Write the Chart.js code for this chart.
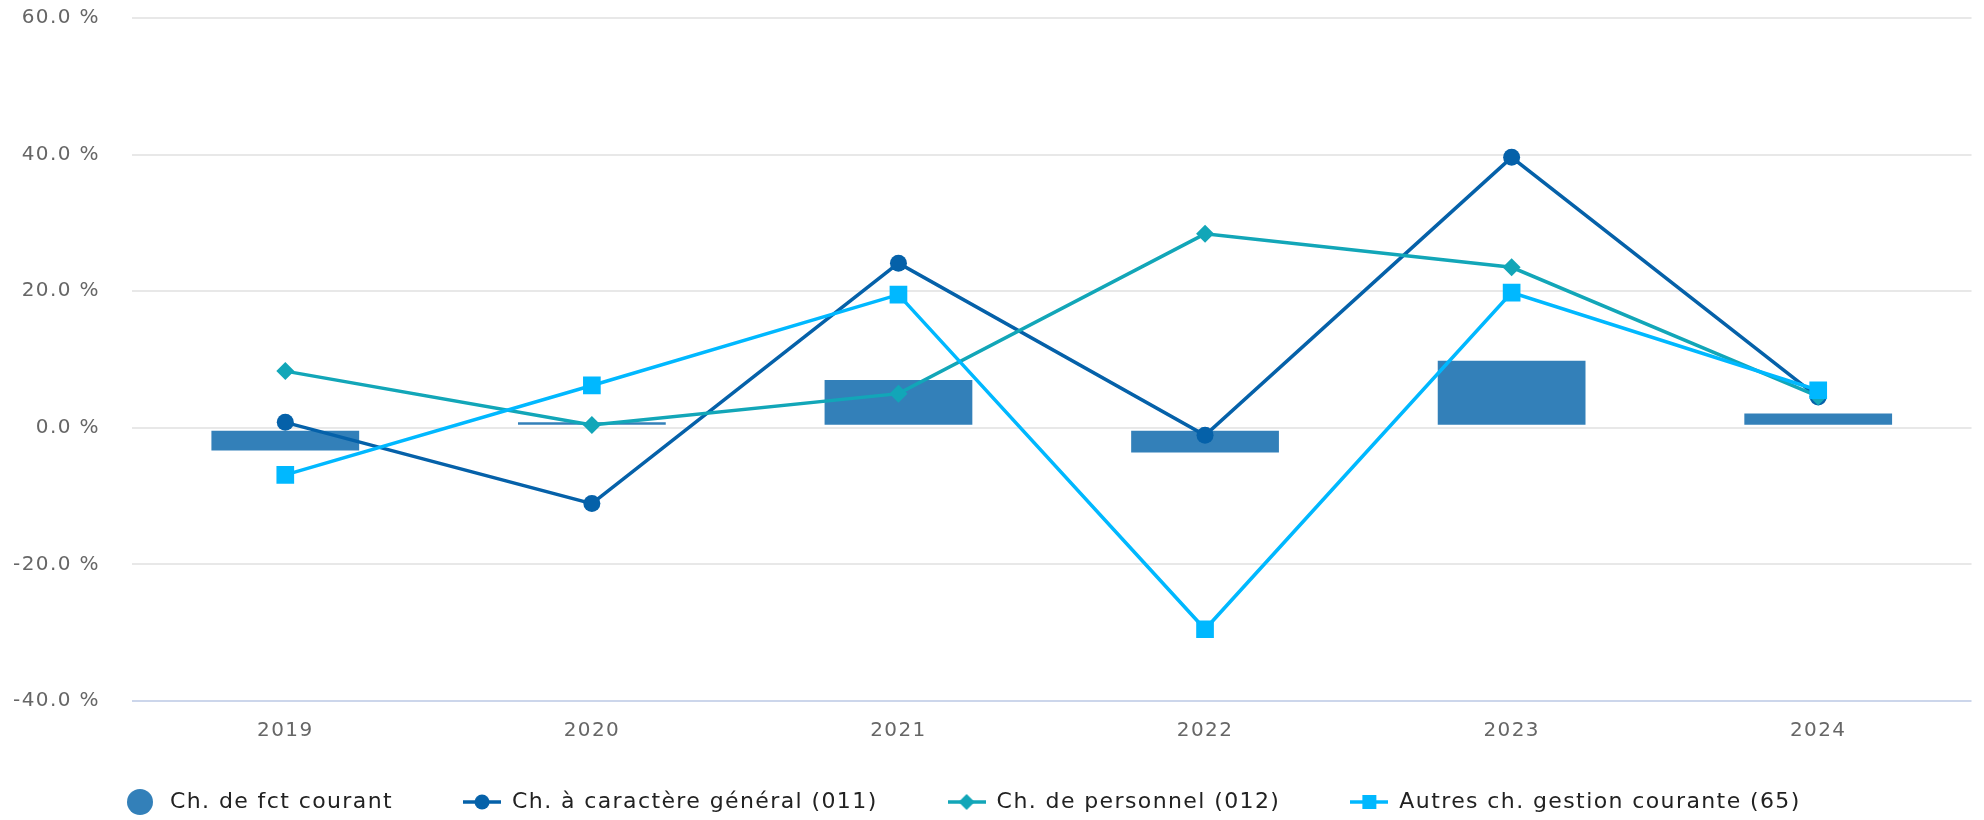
<!DOCTYPE html>
<html>
<head>
<meta charset="utf-8">
<script src="https://cdn.jsdelivr.net/npm/chart.js@4.4.1/dist/chart.umd.min.js"></script>
<style>
    body { margin: 0; background: #fff; }
    #wrap { width: 1984px; height: 820px; }
</style>
</head>
<body>
<div id="wrap"><canvas id="evol-chart"></canvas></div>
<script>
    "use strict";

    // Data
    var years = ["2019", "2020", "2021", "2022", "2023", "2024"];
    var fctCourant = [-3.6, 1.1, 7.3, -3.9, 10.1, 2.4];
    var chGeneral = [0.8, -11.1, 24.1, -1.1, 39.6, 4.5];
    var chPersonnel = [8.3, 0.4, 5.0, 28.4, 23.5, 4.6];
    var autresGestion = [-6.9, 6.2, 19.5, -29.5, 19.8, 5.5];
    var yTicks = [-40, -20, 0, 20, 40, 60];

    var cBar = "#3380b9";
    var cGeneral = "#0561a9";
    var cPersonnel = "#12a6b8";
    var cAutres = "#00b8ff";

    // Legend icons (line + marker, like the original)
    function legendIcon(kind, color) {
        var c = document.createElement("canvas");
        c.width = 38;
        c.height = 28;
        var g = c.getContext("2d");
        g.fillStyle = color;
        g.strokeStyle = color;
        if (kind === "bar") {
            g.beginPath();
            g.arc(19, 14, 13, 0, Math.PI * 2);
            g.fill();
            return c;
        }
        g.lineWidth = 3.5;
        g.beginPath();
        g.moveTo(0, 14);
        g.lineTo(38, 14);
        g.stroke();
        g.beginPath();
        if (kind === "circle") {
            g.arc(19, 14, 7.5, 0, Math.PI * 2);
        } else if (kind === "diamond") {
            g.moveTo(11, 14); g.lineTo(19, 6); g.lineTo(27, 14); g.lineTo(19, 22);
            g.closePath();
        } else {
            g.rect(12, 7, 14, 14);
        }
        g.fill();
        return c;
    }
    var icons = [
        legendIcon("bar", cBar),
        legendIcon("circle", cGeneral),
        legendIcon("diamond", cPersonnel),
        legendIcon("square", cAutres)
    ];

    // Letter spacing on the canvas text + legend placement
    var tweaks = {
        id: "tweaks",
        beforeLayout: function (chart) { chart.ctx.letterSpacing = "1.4px"; },
        afterLayout: function (chart) {
            if (chart.legend) {
                chart.legend.left = 51;
                chart.legend.top = 721;
            }
        },
        beforeDraw: function (chart) { chart.ctx.letterSpacing = "1.4px"; }
    };

    var ctx = document.getElementById("evol-chart").getContext("2d");
    var myChart = new Chart(ctx, {
        type: "bar",
        data: {
            labels: years,
            datasets: [{
                type: "bar",
                label: "Ch. de fct courant",
                data: fctCourant,
                backgroundColor: cBar,
                borderColor: "#ffffff",
                borderWidth: 2,
                borderSkipped: false,
                categoryPercentage: 1,
                barPercentage: 0.495,
                order: 3
            }, {
                type: "line",
                label: "Ch. à caractère général (011)",
                data: chGeneral,
                borderColor: cGeneral,
                backgroundColor: cGeneral,
                borderWidth: 3.5,
                tension: 0,
                pointStyle: "circle",
                pointRadius: 8.5,
                pointBorderWidth: 0,
                order: 2
            }, {
                type: "line",
                label: "Ch. de personnel (012)",
                data: chPersonnel,
                borderColor: cPersonnel,
                backgroundColor: cPersonnel,
                borderWidth: 3.5,
                tension: 0,
                pointStyle: "rectRot",
                pointRadius: 9,
                pointBorderWidth: 0,
                order: 1
            }, {
                type: "line",
                label: "Autres ch. gestion courante (65)",
                data: autresGestion,
                borderColor: cAutres,
                backgroundColor: cAutres,
                borderWidth: 3.5,
                tension: 0,
                pointStyle: "rect",
                pointRadius: 12.5,
                pointBorderWidth: 0,
                order: 0
            }]
        },
        options: {
            responsive: true,
            maintainAspectRatio: false,
            animation: false,
            layout: { padding: { left: 10, right: 9, top: 18, bottom: 0 } },
            scales: {
                x: {
                    grid: { display: false, drawTicks: true, tickLength: 18 },
                    border: { display: false },
                    ticks: {
                        padding: 0,
                        color: "#666666",
                        font: { family: "DejaVu Sans", size: 20 }
                    }
                },
                y: {
                    min: -40,
                    max: 60,
                    afterBuildTicks: function (scale) {
                        scale.ticks = yTicks.map(function (v) { return { value: v }; });
                    },
                    border: { display: false },
                    grid: {
                        drawTicks: true,
                        tickLength: 32,
                        tickColor: "rgba(0,0,0,0)",
                        lineWidth: 2,
                        color: function (c) {
                            return c.tick && c.tick.value === -40 ? "#ccd6eb" : "#e8e8e8";
                        }
                    },
                    ticks: {
                        padding: 0,
                        color: "#666666",
                        font: { family: "DejaVu Sans", size: 20 },
                        callback: function (v) { return v.toFixed(1) + " %"; }
                    },
                    afterFit: function (scale) { scale.width = 122; }
                }
            },
            plugins: {
                tooltip: { enabled: false },
                legend: {
                    position: "bottom",
                    align: "start",
                    maxHeight: 77,
                    labels: {
                        usePointStyle: true,
                        pointStyleWidth: 38,
                        padding: 70,
                        color: "#222222",
                        font: { family: "DejaVu Sans", size: 22 },
                        sort: function (a, b) { return a.datasetIndex - b.datasetIndex; },
                        generateLabels: function (chart) {
                            var items = Chart.defaults.plugins.legend.labels.generateLabels(chart);
                            items.forEach(function (it) {
                                it.pointStyle = icons[it.datasetIndex];
                            });
                            return items;
                        }
                    }
                }
            }
        },
        plugins: [tweaks]
    });
</script>
</body>
</html>
